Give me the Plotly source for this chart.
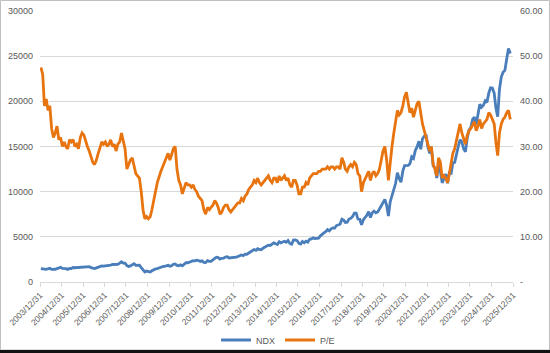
import plotly.graph_objects as go

months = ["01","02","03","04","05","06","07","08","09","10","11","12"]

ndx_by_year = {
    2004: [1490,1450,1440,1400,1470,1520,1400,1380,1410,1480,1580,1620],
    2005: [1500,1500,1480,1400,1500,1490,1600,1580,1600,1580,1680,1650],
    2006: [1700,1660,1700,1700,1580,1570,1480,1560,1650,1740,1780,1760],
    2007: [1790,1750,1770,1880,1940,1940,1930,1960,2090,2240,2090,2080],
    2008: [1820,1710,1780,1950,2030,1840,1860,1870,1600,1300,1110,1210],
    2009: [1180,1100,1240,1400,1450,1480,1600,1630,1700,1720,1780,1860],
    2010: [1740,1810,1960,2000,1840,1790,1910,1800,2030,2140,2130,2220],
    2011: [2300,2350,2340,2410,2370,2280,2340,2180,2150,2370,2280,2280],
    2012: [2450,2600,2750,2700,2530,2620,2630,2770,2800,2660,2680,2660],
    2013: [2730,2740,2820,2880,2990,2910,3090,3070,3220,3380,3500,3590],
    2014: [3510,3690,3600,3570,3740,3850,3880,4080,4050,4160,4340,4240],
    2015: [4150,4460,4330,4420,4510,4400,4590,4270,4180,4650,4670,4590],
    2016: [4280,4200,4480,4340,4520,4420,4730,4770,4880,4800,4810,4860],
    2017: [5110,5330,5440,5580,5790,5650,5880,5990,5980,6250,6330,6400],
    2018: [6950,6850,6580,6620,6970,7040,7240,7620,7630,6970,6950,6330],
    2019: [6900,7100,7380,7800,7130,7670,7850,7650,7750,8080,8400,8730],
    2020: [9150,8460,7300,8890,9550,10160,10900,12110,11420,11050,12270,12890],
    2021: [12930,12900,13090,13860,13690,14550,14960,15580,14690,15850,16140,16320],
    2022: [14930,14240,14840,12850,12640,11500,12950,12270,10970,11400,11950,10940],
    2023: [12100,12040,13180,13250,14250,14990,15750,15500,14720,14410,15950,16830],
    2024: [17140,18040,18250,17440,18540,19680,19360,19570,20060,19890,20930,21500],
    2025: [21480,20880,19280,18300,21340,22680,23220,23420,24680,25860,25300],
}

pe_by_year = {
    2004: [47.5,46,39,40.5,38,39,34,32,33,34.5,31.5,32],
    2005: [30,31,30,29.5,31.5,31,31.5,30,30.5,29.5,32,33],
    2006: [32.5,31,30,29,27.5,26.5,26,27,28.5,30,31,30.5],
    2007: [31,30,30.5,31.5,30,30.5,29,30.5,31,33,31,29.5],
    2008: [25,26,27,27.5,26,24,23.5,23,20,16,14,14.5],
    2009: [14,14.5,16,18.5,20,22,23.5,24.5,25.5,26.5,27.5,28.5],
    2010: [27,28.5,29.5,30,25,22.5,21.5,19.5,21,22,21.5,21.5],
    2011: [21,21.5,20.5,20,19,18.5,18,16,15,16.5,16,16.5],
    2012: [17,18,17.5,16.5,15,15.5,16.5,17,17,16,15.5,16],
    2013: [16.5,17,17.5,17.5,18.5,18,19,19.5,20.5,21,21.5,22.5],
    2014: [22,23,22,21.5,22,22.5,23,23.5,22.5,22,23,23],
    2015: [22,23.5,22.5,23,23.5,22.5,23,21.5,21,22.5,22.5,21.5],
    2016: [19.5,19.5,21,21,22,21.5,23,23.5,24,24,24,24.5],
    2017: [24.5,25,25,25,25.5,25,25.5,25.5,25,25.5,25.5,25],
    2018: [27.5,26.5,25,24.5,25.5,26,25.5,26.5,26,24,23.5,20],
    2019: [22,23,23.5,24.5,22.5,24,24.5,23.5,24,25,27,29],
    2020: [30,27,22.5,27,30,33,35.5,38,37,37.5,39,41],
    2021: [42,40,37.5,38.5,36.5,38,39.5,40,37,35,33.5,32],
    2022: [30.5,29,30,26,25,23.5,27.5,26.5,23,23.5,23,22],
    2023: [24,26,28.5,29.5,31.5,33.5,35,33,31.5,30.5,32.5,33.5],
    2024: [34,35,35.5,33.5,34.5,36,34,35,35.5,36,37.5,37],
    2025: [36,35,31,28,33,35,36,36.5,37.5,38,36],
}

dates, ndx, pe = [], [], []
for yr in sorted(ndx_by_year):
    for i, v in enumerate(ndx_by_year[yr]):
        dates.append(f"{yr}-{months[i]}-15")
        ndx.append(v)
        pe.append(pe_by_year[yr][i])

tick_dates = [f"{y}-12-31" for y in range(2003, 2026)]
tick_labels = [f"{y}/12/31" for y in range(2003, 2026)]
left_ticks = [0, 5000, 10000, 15000, 20000, 25000, 30000]
right_ticks = [0, 10, 20, 30, 40, 50, 60]
right_labels = ["-", "10.00", "20.00", "30.00", "40.00", "50.00", "60.00"]

BLUE = "#4a7ebb"
ORANGE = "#e8740f"
GRAY = "#595959"

fig = go.Figure()
fig.add_trace(go.Scatter(x=dates, y=ndx, name="NDX", mode="lines",
                         line=dict(color=BLUE, width=2.8)))
fig.add_trace(go.Scatter(x=dates, y=pe, name="P/E", mode="lines", yaxis="y2",
                         line=dict(color=ORANGE, width=2.8)))

W, H = 550, 353
L, R, T, B = 40, 37, 11, 71
pw, ph = W - L - R, H - T - B

fig.update_layout(
    width=W, height=H,
    margin=dict(l=L, r=R, t=T, b=B, autoexpand=False),
    paper_bgcolor="white", plot_bgcolor="white",
    font=dict(family="Liberation Sans, Arial, sans-serif", size=9, color=GRAY),
    showlegend=True,
    legend=dict(orientation="h", x=(278 - L) / pw, xanchor="center",
                y=-(340 - (H - B)) / ph, yanchor="middle",
                font=dict(size=9, color=GRAY), tracegroupgap=0,
                bgcolor="rgba(0,0,0,0)"),
    xaxis=dict(type="date", range=["2003-12-31", "2025-12-31"], automargin=False,
               tickvals=tick_dates, ticktext=tick_labels, tickangle=-45,
               showgrid=False, showline=True, linecolor="#d9d9d9", linewidth=1,
               ticks="outside", ticklen=4, tickcolor="#d9d9d9",
               tickfont=dict(size=8.5, color=GRAY), zeroline=False),
    yaxis=dict(range=[0, 30000], tickvals=left_ticks, ticktext=[str(v) for v in left_ticks],
               automargin=False,
               showgrid=True, gridcolor="#d9d9d9", gridwidth=1, zeroline=False,
               showline=False, ticks="", ticklabelstandoff=6,
               tickfont=dict(size=9, color=GRAY)),
    yaxis2=dict(range=[0, 60], overlaying="y", side="right", tickvals=right_ticks,
                automargin=False,
                ticktext=right_labels, showgrid=False, zeroline=False, showline=False,
                ticks="", ticklabelstandoff=6, tickfont=dict(size=9, color=GRAY)),
    shapes=[
        dict(type="rect", xref="paper", yref="paper",
             x0=-(L - 0.5) / pw, x1=(W - L - 0.5) / pw, y0=-(B - 3) / ph, y1=(H - B - 0.5) / ph,
             line=dict(color="#bfbfbf", width=1), fillcolor="rgba(0,0,0,0)", layer="below"),
        dict(type="line", xref="paper", yref="paper",
             x0=-L / pw, x1=(W - L) / pw, y0=-(B - 1.5) / ph, y1=-(B - 1.5) / ph,
             line=dict(color="#111111", width=3)),
    ],
)

fig.write_html("out.html")
